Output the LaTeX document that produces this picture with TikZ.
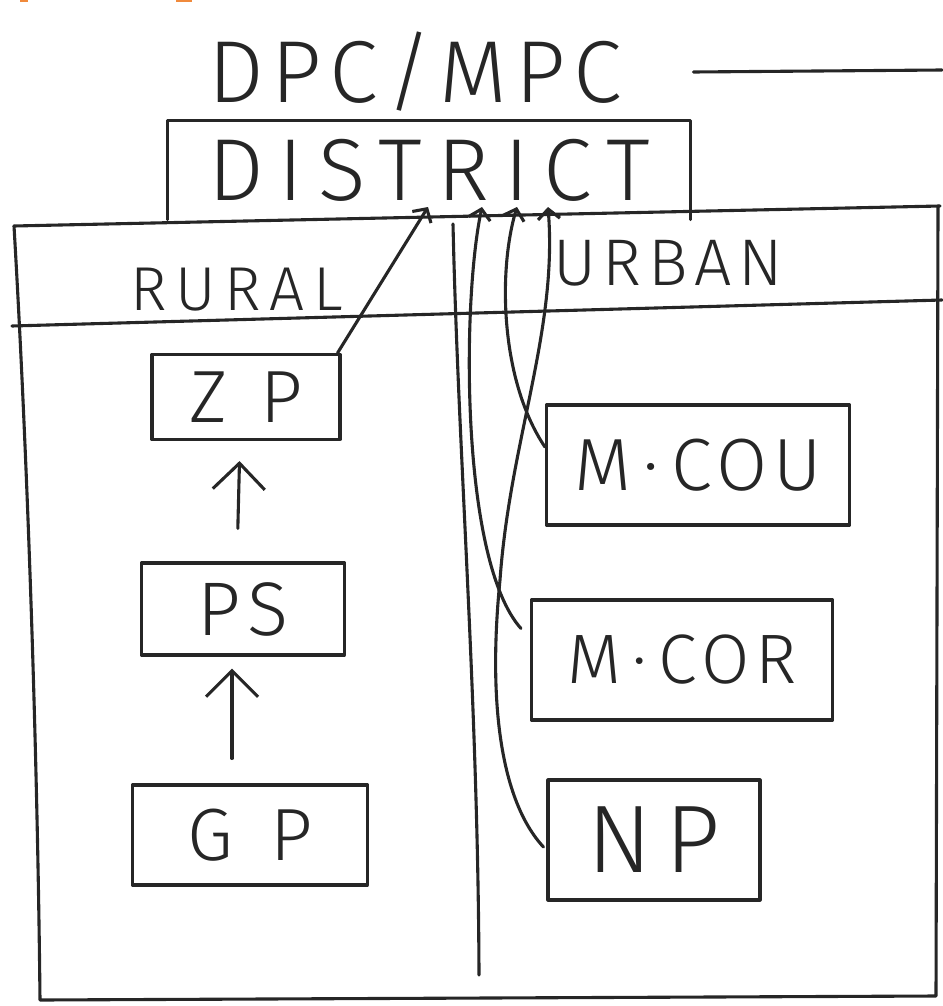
\documentclass[tikz,border=0pt]{standalone}
\usepackage{fontspec}
\setmainfont{Fira Sans}[UprightFont={* Light}]
\usetikzlibrary{arrows.meta}
\definecolor{ink}{HTML}{262626}
\definecolor{orangemark}{HTML}{F08A3C}
\newcommand\myfs[1]{\fontsize{#1}{#1}\selectfont}
\begin{document}
\begin{tikzpicture}[x=1pt,y=-1pt, line width=3.1pt, line cap=round, line join=round,
  every node/.style={text=ink, inner sep=0pt},
  box/.style={draw=ink, rectangle, inner sep=0pt},
  frame/.style={draw=ink},
  link/.style={draw=ink, -{Straight Barb[length=10pt,width=22pt]}},
  uparrow/.style={draw=ink, -{Straight Barb[length=26pt,width=52pt]}}
]
\useasboundingbox (0,0) rectangle (942,1006);
\fill[orangemark] (20,0) rectangle (28,2);
\fill[orangemark] (176,0) rectangle (192,2);

% heading
\node (dpc) at (415,72) {\myfs{88}\addfontfeature{LetterSpace=9}DPC/MPC};
\coordinate (dpcend) at (942,70);
\draw[frame] ([xshift=70pt]dpc.east) -- (dpcend);

% district
\node[minimum width=520pt, minimum height=96pt] (dist) at (429,170) {\myfs{88}\addfontfeature{LetterSpace=17}DISTRICT};
\draw[frame] (dist.south west) -- (dist.north west) -- (dist.north east) -- (dist.south east);

% outer frame
\draw[frame] (14,226) -- (940,206);
\draw[frame] (14,226) .. controls (30,500) and (38,800) .. (40,1000) -- (936,996) -- (938,206);
\draw[frame] (12,326) -- (942,300);
\draw[frame] (453,224) .. controls (458,450) and (478,700) .. (479,975);

\node (rural) at (237,290) {\myfs{62}\addfontfeature{LetterSpace=14}RURAL};
\node (urban) at (668,263) {\myfs{66}\addfontfeature{LetterSpace=10}URBAN};

% rural boxes
\node[box, minimum width=188pt, minimum height=85pt] (zp) at (246,397) {\myfs{74}Z\hspace{0.45em}P};
\node[box, minimum width=203pt, minimum height=92pt] (ps) at (243,609) {\myfs{76}\addfontfeature{LetterSpace=12}PS};
\node[box, minimum width=235pt, minimum height=100pt] (gp) at (250,835) {\myfs{74}G\hspace{0.5em}P};

% urban boxes
\node[box, minimum width=303pt, minimum height=120pt] (mcou) at (698,465) {\myfs{74}\addfontfeature{LetterSpace=8}M\,·\,COU};
\node[box, minimum width=301pt, minimum height=120pt] (mcor) at (682,660) {\myfs{70}\addfontfeature{LetterSpace=8}M\,·\,COR};
\node[box, minimum width=212pt, minimum height=120pt] (np) at (654,840) {\myfs{96}\addfontfeature{LetterSpace=14}NP};

% arrow ends at district
\coordinate (d1) at (428,207);
\coordinate (d2) at (482,207);
\coordinate (d3) at (517,207);
\coordinate (d4) at (548,207);

\draw[link] ([xshift=-4pt]zp.north east) -- (d1);
\draw[link] ([xshift=-9pt,yshift=-30pt]mcor.north west) .. controls (460,560) and (462,300) .. (d2);
\draw[link] ([yshift=18pt]mcou.west) .. controls (500,380) and (498,270) .. (d3);
\draw[link] ([xshift=-3pt,yshift=-7pt]np.west) .. controls (500,800) and (488,700) .. (500,580)
   .. controls (510,440) and (558,330) .. (d4);

% rural hierarchy
\draw[uparrow, shorten <=33pt, shorten >=20pt] ([xshift=-6pt]ps.north) -- ([xshift=-6pt]zp.south);
\draw[uparrow, shorten <=25pt, shorten >=12pt] ([xshift=-18pt]gp.north) -- ([xshift=-11pt]ps.south);
\end{tikzpicture}
\end{document}
